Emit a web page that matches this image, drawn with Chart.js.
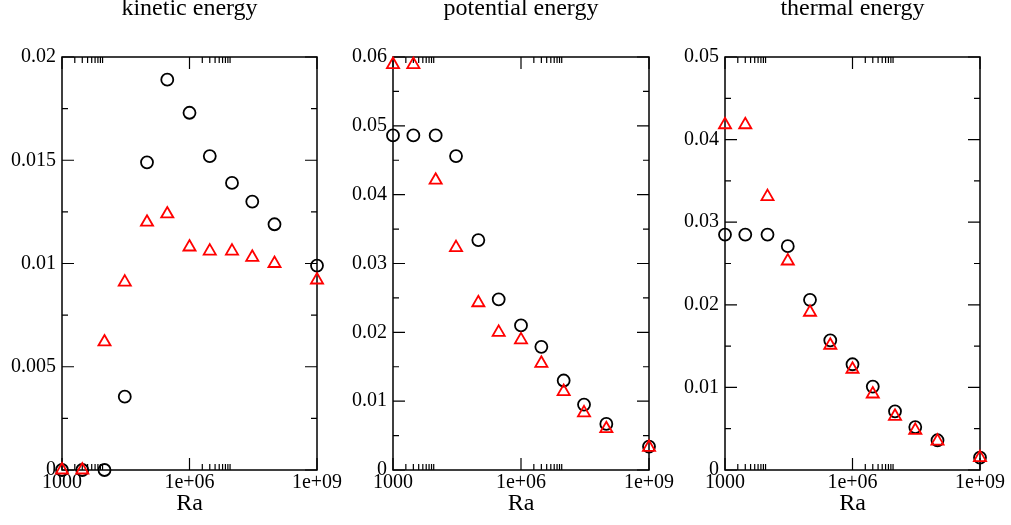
<!DOCTYPE html>
<html>
<head>
<meta charset="utf-8">
<script src="https://cdn.jsdelivr.net/npm/chart.js@4/dist/chart.umd.min.js"></script>
<style>
    body { margin: 0; background: #ffffff; width: 1011px; height: 525px; overflow: hidden; position: relative; }
    canvas { position: absolute; top: 0; }
</style>
</head>
<body>
<canvas id="kinetic" width="360" height="525" style="left:0px"></canvas>
<canvas id="potential" width="360" height="525" style="left:331px"></canvas>
<canvas id="thermal" width="360" height="525" style="left:663px"></canvas>
<script>
// valores
const ra = [1e3, 3e3, 1e4, 3e4, 1e5, 3e5, 1e6, 3e6, 1e7, 3e7, 1e8, 1e9];

const cineticaCirculo = [0, 0, 0, 0.00355, 0.0149, 0.0189, 0.0173, 0.0152, 0.0139, 0.0130, 0.0119, 0.0099];
const cineticaTriangulo = [0, 0, 0.0062, 0.0091, 0.0120, 0.0124, 0.0108, 0.0106, 0.0106, 0.0103, 0.0100, 0.0092];

const potencialCirculo = [0.0486, 0.0486, 0.0486, 0.0456, 0.0334, 0.0248, 0.0210, 0.0179, 0.0130, 0.0095, 0.0067, 0.0034];
const potencialTriangulo = [0.0589, 0.0589, 0.0421, 0.0323, 0.0243, 0.0200, 0.0189, 0.0155, 0.0114, 0.0083, 0.0060, 0.0033];

const termicaCirculo = [0.0285, 0.0285, 0.0285, 0.0271, 0.0206, 0.0157, 0.0128, 0.0101, 0.0071, 0.0052, 0.0036, 0.0015];
const termicaTriangulo = [0.0418, 0.0418, 0.0331, 0.0253, 0.0191, 0.0151, 0.0122, 0.0092, 0.0065, 0.0048, 0.0035, 0.0015];

const xTicks = [1e3, 1e6, 1e9];
const xTickLabels = ['1000', '1e+06', '1e+09'];
const titulos = ['kinetic energy', 'potential energy', 'thermal energy'];
const yMaximos = [0.02, 0.06, 0.05];
const yPassos = [0.005, 0.01, 0.01];

const fonte = "'Liberation Serif', 'Times New Roman', serif";

// moldura, ticks para dentro e titulo do painel
const moldura = {
    id: 'moldura',
    beforeDatasetsDraw(chart, args, opts) {
        const ctx = chart.ctx;
        const area = chart.chartArea;
        const x = chart.scales.x;
        const y = chart.scales.y;
        ctx.save();
        ctx.strokeStyle = '#000000';
        ctx.lineWidth = 1.5;
        ctx.strokeRect(area.left, area.top, area.right - area.left, area.bottom - area.top);

        ctx.lineWidth = 1.2;
        ctx.beginPath();
        // x maiores e menores
        for (let i = 0; i < xTicks.length; i++) {
            const px = x.getPixelForValue(xTicks[i]);
            ctx.moveTo(px, area.bottom); ctx.lineTo(px, area.bottom - 12);
            ctx.moveTo(px, area.top); ctx.lineTo(px, area.top + 12);
            if (i < xTicks.length - 1) {
                for (let k = 2; k <= 9; k++) {
                    const pm = x.getPixelForValue(xTicks[i] * k);
                    ctx.moveTo(pm, area.bottom); ctx.lineTo(pm, area.bottom - 6);
                    ctx.moveTo(pm, area.top); ctx.lineTo(pm, area.top + 6);
                }
            }
        }
        // y maiores e menores
        const passo = opts.passo;
        for (let v = 0; v <= opts.max + 1e-9; v += passo / 2) {
            const py = y.getPixelForValue(v);
            const maior = Math.abs(v / passo - Math.round(v / passo)) < 1e-6;
            const len = maior ? 12 : 6;
            ctx.moveTo(area.left, py); ctx.lineTo(area.left + len, py);
            ctx.moveTo(area.right, py); ctx.lineTo(area.right - len, py);
        }
        ctx.stroke();
        ctx.restore();
    },
    afterDraw(chart, args, opts) {
        const ctx = chart.ctx;
        const area = chart.chartArea;
        ctx.save();
        ctx.fillStyle = '#000000';
        ctx.font = '24px ' + fonte;
        ctx.textAlign = 'center';
        ctx.textBaseline = 'alphabetic';
        ctx.fillText(opts.titulo, (area.left + area.right) / 2, 15);
        ctx.restore();
    }
};

function criarPainel(id, indice, circulos, triangulos, larguraArea) {
    const canvas = document.getElementById(id);
    new Chart(canvas, {
        type: 'scatter',
        data: {
            datasets: [{
                data: ra.map((v, i) => ({ x: v, y: circulos[i] })),
                pointStyle: 'circle',
                pointRadius: 6,
                borderColor: '#000000',
                backgroundColor: 'rgba(0,0,0,0)',
                borderWidth: 1.8,
                clip: false,
                order: 2
            }, {
                data: ra.map((v, i) => ({ x: v, y: triangulos[i] })),
                pointStyle: 'triangle',
                pointRadius: 7,
                borderColor: '#ff0000',
                backgroundColor: 'rgba(0,0,0,0)',
                borderWidth: 1.8,
                clip: false,
                order: 1
            }]
        },
        options: {
            responsive: false,
            animation: false,
            layout: {
                padding: { top: 57, right: 360 - 62 - larguraArea, bottom: 0, left: 0 }
            },
            scales: {
                x: {
                    type: 'logarithmic',
                    min: 1e3,
                    max: 1e9,
                    afterBuildTicks: (scale) => {
                        scale.ticks = xTicks.map(v => ({ value: v }));
                    },
                    afterFit: (scale) => { scale.height = 55; },
                    grid: { display: false, drawTicks: false },
                    border: { display: false },
                    ticks: {
                        autoSkip: false,
                        maxRotation: 0,
                        padding: 1,
                        color: '#000000',
                        font: { family: fonte, size: 20 },
                        callback: (v) => xTickLabels[xTicks.indexOf(v)]
                    },
                    title: {
                        display: true,
                        text: 'Ra',
                        color: '#000000',
                        font: { family: fonte, size: 24 },
                        padding: { top: 0, bottom: 7 }
                    }
                },
                y: {
                    min: 0,
                    max: yMaximos[indice],
                    afterFit: (scale) => { scale.width = 62; },
                    grid: { display: false, drawTicks: false },
                    border: { display: false },
                    ticks: {
                        stepSize: yPassos[indice],
                        padding: 6,
                        color: '#000000',
                        font: { family: fonte, size: 20 },
                        callback: (v) => String(+v.toFixed(4))
                    }
                }
            },
            plugins: {
                legend: { display: false },
                tooltip: { enabled: false },
                moldura: {
                    titulo: titulos[indice],
                    max: yMaximos[indice],
                    passo: yPassos[indice]
                }
            }
        },
        plugins: [moldura]
    });
}

criarPainel('kinetic', 0, cineticaCirculo, cineticaTriangulo, 255);
criarPainel('potential', 1, potencialCirculo, potencialTriangulo, 256);
criarPainel('thermal', 2, termicaCirculo, termicaTriangulo, 255);
</script>
</body>
</html>
